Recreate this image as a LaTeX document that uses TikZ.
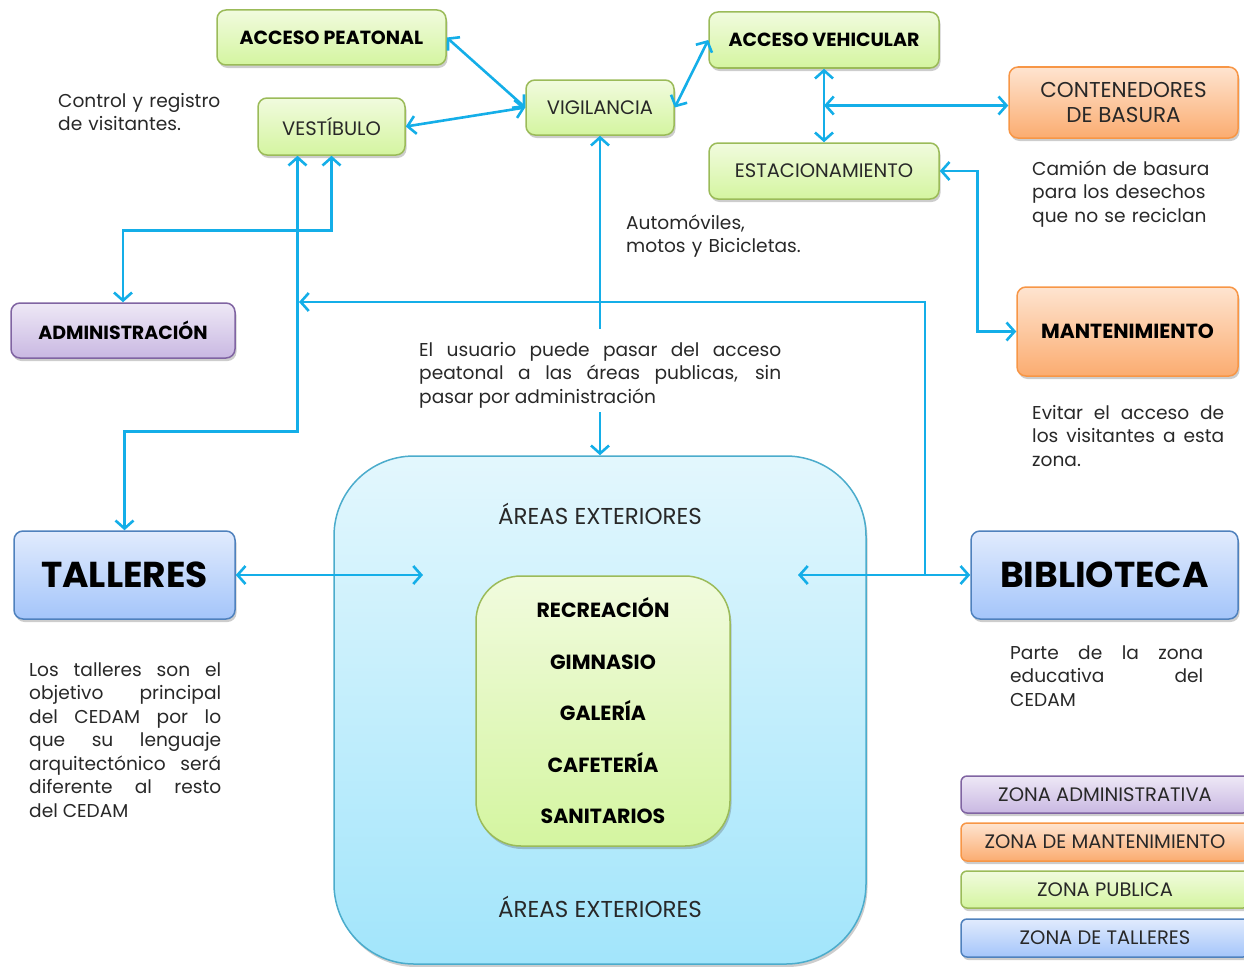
\documentclass[tikz,border=0pt]{standalone}
\usepackage{fontspec}
\setmainfont{Poppins}
\usetikzlibrary{arrows.meta,shadows,calc}

\definecolor{flow}{RGB}{20,174,232}
\definecolor{ink}{RGB}{40,40,40}
\definecolor{gTop}{RGB}{241,251,222}
\definecolor{gBot}{RGB}{212,245,160}
\definecolor{gLine}{RGB}{155,187,89}
\definecolor{oTop}{RGB}{254,228,208}
\definecolor{oBot}{RGB}{251,172,112}
\definecolor{oLine}{RGB}{247,150,70}
\definecolor{pTop}{RGB}{238,232,246}
\definecolor{pBot}{RGB}{201,184,226}
\definecolor{pLine}{RGB}{128,100,162}
\definecolor{bTop}{RGB}{225,235,253}
\definecolor{bBot}{RGB}{164,197,250}
\definecolor{bLine}{RGB}{79,129,189}
\definecolor{cTop}{RGB}{227,247,253}
\definecolor{cBot}{RGB}{162,229,251}
\definecolor{cLine}{RGB}{75,172,204}

\tikzset{
  zone/.style={rounded corners=9pt, line width=1.5pt, inner sep=0pt, align=center,
    text=ink, drop shadow={shadow xshift=1.5pt, shadow yshift=-3pt, opacity=0.28, fill=black!70}},
  pubzone/.style={zone, draw=gLine, top color=gTop, bottom color=gBot},
  mntzone/.style={zone, draw=oLine, top color=oTop, bottom color=oBot},
  admzone/.style={zone, draw=pLine, top color=pTop, bottom color=pBot},
  talzone/.style={zone, draw=bLine, top color=bTop, bottom color=bBot},
  extzone/.style={zone, draw=cLine, top color=cTop, bottom color=cBot},
  boxsize/.style 2 args={minimum width=#1, minimum height=#2},
  lblbold/.style={font=\fontsize{19}{22}\selectfont\bfseries, text=black},
  lblreg/.style={font=\fontsize{19.5}{23}\selectfont},
  lblbig/.style={font=\fontsize{36}{42}\selectfont\bfseries, text=black},
  note/.style={font=\fontsize{18.6}{23.5}\selectfont, text=ink, inner sep=0pt, anchor=base west},
  lnote/.style={note, align=left, text width=#1},
  jnote/.style={note, align=justify, text width=#1},
  flowline/.style={draw=flow, line width=2.6pt,
    arrows={Straight Barb[length=8pt,width=18pt]-Straight Barb[length=8pt,width=18pt]}},
  oneway/.style={draw=flow, line width=2.6pt,
    arrows={-Straight Barb[length=8pt,width=18pt]}},
}

\begin{document}
\begin{tikzpicture}[x=1pt,y=-1pt]
\useasboundingbox (0,0) rectangle (1244,966);

% exterior areas with the public core inside
\node[extzone, rounded corners=80pt, boxsize={532pt}{508pt}] (big) at (600,710) {};
\node[font=\fontsize{23}{27}\selectfont, text=ink] (ext1) at (600,514) {ÁREAS EXTERIORES};
\node[font=\fontsize{23}{27}\selectfont, text=ink] (ext2) at (600,907) {ÁREAS EXTERIORES};
\node[pubzone, rounded corners=45pt, boxsize={254pt}{270pt},
      font=\fontsize{20.5}{51.5}\selectfont\bfseries, text=black] (core) at (603,711)
  {RECREACIÓN\\GIMNASIO\\GALERÍA\\CAFETERÍA\\SANITARIOS};

% public zone
\node[pubzone, lblbold, boxsize={229pt}{55pt}] (ap) at (331.5,37.5) {ACCESO PEATONAL};
\node[pubzone, lblreg, boxsize={147pt}{57pt}] (vest) at (331.5,126.5) {VESTÍBULO};
\node[pubzone, lblreg, boxsize={148pt}{55pt}] (vig) at (600,107.5) {VIGILANCIA};
\node[pubzone, lblbold, boxsize={230pt}{56pt}] (av) at (824,40) {ACCESO VEHICULAR};
\node[pubzone, lblreg, boxsize={230pt}{56pt}] (est) at (824,171) {ESTACIONAMIENTO};

% maintenance zone
\node[mntzone, font=\fontsize{21.5}{25.5}\selectfont, boxsize={229pt}{71pt}] (cont) at (1123.5,102.5)
  {CONTENEDORES\\DE BASURA};
\node[mntzone, font=\fontsize{20.4}{24}\selectfont\bfseries, text=black, boxsize={221pt}{89pt}] (mant) at (1127.5,331.5) {MANTENIMIENTO};

% administrative zone
\node[admzone, lblbold, boxsize={224pt}{55pt}] (adm) at (123,330.5) {ADMINISTRACIÓN};

% workshop zone
\node[talzone, lblbig, boxsize={221pt}{88pt}] (tal) at (124.5,575) {TALLERES};
\node[talzone, lblbig, boxsize={267pt}{88pt}] (bib) at (1104.5,575) {BIBLIOTECA};

% legend
\node[admzone, rounded corners=6pt, lblreg, boxsize={288pt}{37pt}] (lg1) at (1105,794.5) {ZONA ADMINISTRATIVA};
\node[mntzone, rounded corners=6pt, lblreg, boxsize={288pt}{38pt}] (lg2) at (1105,842) {ZONA DE MANTENIMIENTO};
\node[pubzone, rounded corners=6pt, lblreg, boxsize={288pt}{37pt}] (lg3) at (1105,889.5) {ZONA PUBLICA};
\node[talzone, rounded corners=6pt, lblreg, boxsize={288pt}{38pt}] (lg4) at (1105,938) {ZONA DE TALLERES};

% notes
\node[lnote=220pt] (n1) at (58,107) {Control y registro\\de visitantes.};
\node[lnote=220pt] (n2) at (626,229) {Automóviles,\\motos y Bicicletas.};
\node[lnote=200pt] (n3) at (1032,175) {Camión de basura\\para los desechos\\que no se reciclan};
\node[jnote=362pt] (n4) at (419,356) {El usuario puede pasar del acceso\linebreak peatonal a las áreas publicas, sin\linebreak pasar por administración};
\node[jnote=192pt] (n5) at (1032,419) {Evitar el acceso de\linebreak los visitantes a esta\linebreak zona.};
\node[jnote=192pt] (n6) at (29,676) {Los talleres son el\linebreak objetivo principal\linebreak del CEDAM por lo\linebreak que su lenguaje\linebreak arquitectónico será\linebreak diferente al resto\linebreak del CEDAM};
\node[jnote=193pt] (n7) at (1010,659) {Parte de la zona\linebreak educativa del\linebreak CEDAM};

% connector end points
\coordinate (fork) at ($(av.south)!0.5!(est.north)$);
\coordinate (usrIn) at (600,412);
\coordinate (bigL) at (423,575);
\coordinate (bigR) at (798,575);
\coordinate (junc) at (925,575);
\coordinate (hallTip) at (299,302);

% connectors
\draw[flowline] (ap.east) -- (vig.west);
\draw[flowline] (vest.east) -- (vig.west);
\draw[flowline] (vig.east) -- (av.west);
\draw[flowline] (av.south) -- (est.north);
\draw[flowline] (fork) -- (fork -| cont.west);
\draw[flowline] (est.east) -- ++(38,0) |- (mant.west);
\draw[oneway] (vig.south) ++(0,193) -- (vig.south);
\draw[oneway] (usrIn) -- (big.north);
\draw[flowline] (bigR) -- (bib.west);
\draw[oneway] (junc) |- (hallTip);
\draw[flowline] (tal.east) -- (bigL);
\draw[flowline] ([xshift=-34pt]vest.south) -- ++(0,276) -| (tal.north);
\draw[flowline] (vest.south) -- ++(0,75) -| (adm.north);
\end{tikzpicture}
\end{document}
